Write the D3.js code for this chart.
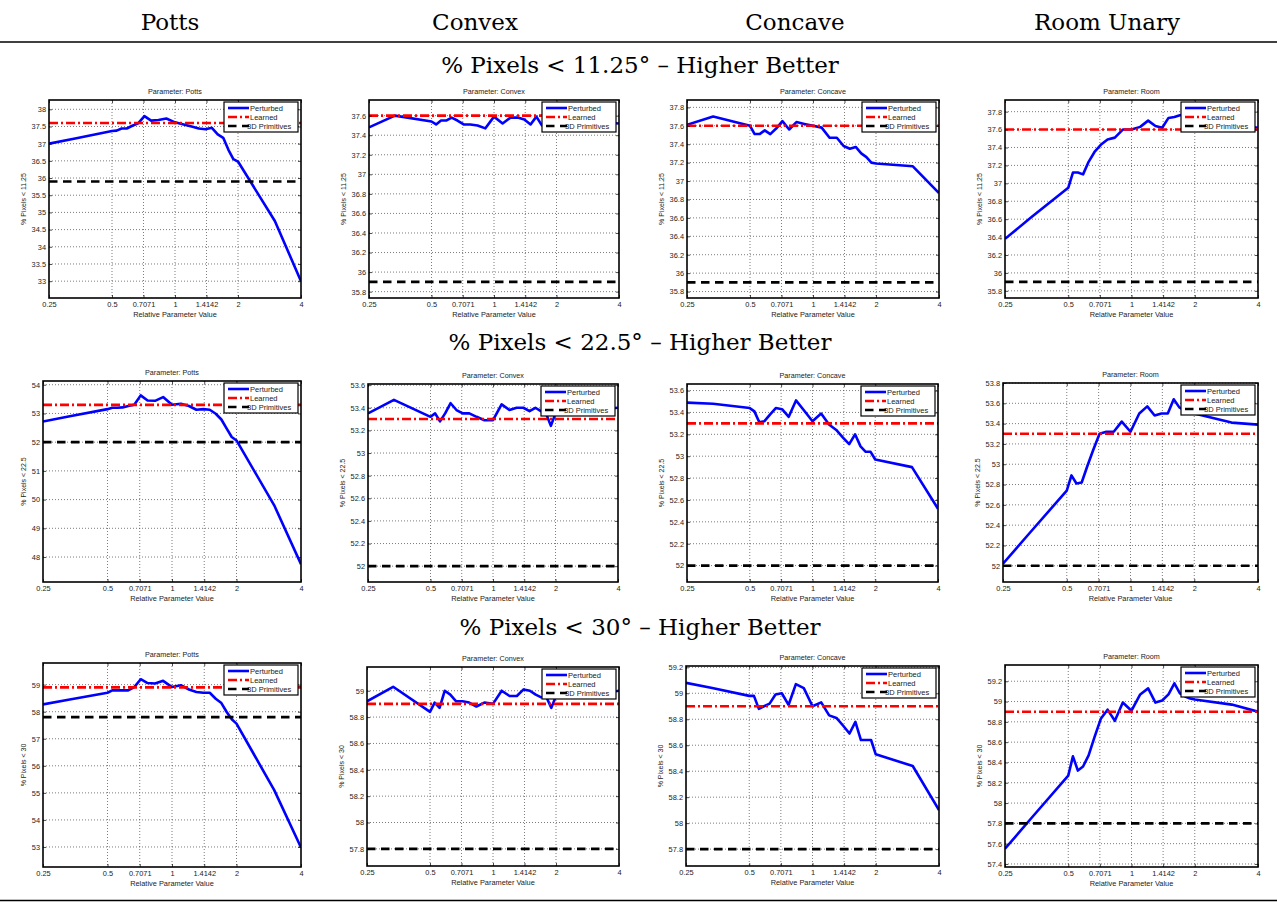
<!DOCTYPE html>
<html>
<head>
<meta charset="utf-8">
<script src="https://cdn.jsdelivr.net/npm/d3@7"></script>
<style>
  body { margin: 0; background: #fff; }
  svg { display: block; }
</style>
</head>
<body>
<svg id="chart"></svg>
<script>
// column headers, panel titles and row titles
const columnNames = ["Potts", "Convex", "Concave", "Room Unary"];
const panelNames = ["Potts", "Convex", "Concave", "Room"];
const sectionTitles = [
  "% Pixels < 11.25° – Higher Better",
  "% Pixels < 22.5° – Higher Better",
  "% Pixels < 30° – Higher Better"
];
const yLabels = ["% Pixels < 11.25", "% Pixels < 22.5", "% Pixels < 30"];
const legendNames = ["Perturbed", "Learned", "3D Primitives"];

// relative parameter values (x), log axis
const xValues = [0.25, 0.3333, 0.5, 0.5263, 0.5556, 0.5882, 0.625, 0.6667, 0.7143, 0.7692, 0.8333, 0.9091,
  1, 1.1, 1.2, 1.3, 1.4, 1.5, 1.6, 1.7, 1.8, 1.9, 2, 3, 4];
const xTicks = [0.25, 0.5, 0.7071, 1, 1.4142, 2, 4];
const xTickLabels = ["0.25", "0.5", "0.7071", "1", "1.4142", "2", "4"];

// reference lines per row
const learned = [37.6, 53.3, 58.9];
const primitives = [35.9, 52.0, 57.8];

// perturbed curves, % pixels < 11.25
const potts11 = [37.0, 37.15, 37.37, 37.38, 37.44, 37.44, 37.52, 37.59, 37.8, 37.67, 37.69, 37.73, 37.62,
  37.56, 37.5, 37.44, 37.42, 37.46, 37.27, 37.17, 36.82, 36.55, 36.48, 34.75, 33.0];
const convex11 = [37.48, 37.6, 37.54, 37.51, 37.55, 37.55, 37.58, 37.55, 37.51, 37.51, 37.5, 37.47, 37.59,
  37.52, 37.58, 37.58, 37.56, 37.51, 37.59, 37.5, 37.55, 37.52, 37.55, 37.54, 37.52];
const concave11 = [37.61, 37.7, 37.6, 37.51, 37.51, 37.55, 37.51, 37.57, 37.65, 37.56, 37.64, 37.62, 37.6,
  37.58, 37.47, 37.47, 37.38, 37.35, 37.37, 37.3, 37.26, 37.2, 37.19, 37.16, 36.87];
const room11 = [36.38, 36.62, 36.95, 37.12, 37.12, 37.1, 37.24, 37.35, 37.43, 37.49, 37.51, 37.6, 37.6,
  37.63, 37.7, 37.64, 37.62, 37.73, 37.74, 37.76, 37.77, 37.75, 37.73, 37.66, 37.62];

// % pixels < 22.5
const potts22 = [52.72, 52.9, 53.15, 53.2, 53.2, 53.21, 53.26, 53.3, 53.63, 53.45, 53.44, 53.57, 53.3,
  53.34, 53.26, 53.13, 53.15, 53.13, 52.99, 52.79, 52.47, 52.18, 52.06, 49.8, 47.75];
const convex22 = [53.35, 53.47, 53.32, 53.35, 53.28, 53.35, 53.44, 53.38, 53.35, 53.35, 53.32, 53.29, 53.29,
  53.43, 53.38, 53.4, 53.4, 53.37, 53.4, 53.37, 53.35, 53.24, 53.35, 53.38, 53.4];
const concave22 = [53.49, 53.48, 53.44, 53.41, 53.31, 53.32, 53.38, 53.44, 53.43, 53.36, 53.51, 53.42, 53.32,
  53.39, 53.29, 53.24, 53.17, 53.11, 53.2, 53.09, 53.04, 53.04, 52.97, 52.9, 52.52];
const room22 = [52.02, 52.32, 52.74, 52.89, 52.81, 52.82, 52.98, 53.14, 53.3, 53.32, 53.32, 53.42, 53.32,
  53.5, 53.57, 53.48, 53.5, 53.5, 53.64, 53.56, 53.53, 53.52, 53.5, 53.41, 53.39];

// % pixels < 30
const potts30 = [58.27, 58.45, 58.7, 58.79, 58.79, 58.79, 58.79, 58.91, 59.2, 59.06, 59.04, 59.14, 58.91,
  58.98, 58.82, 58.73, 58.7, 58.7, 58.48, 58.32, 57.99, 57.72, 57.56, 55.1, 52.98];
const convex30 = [58.92, 59.03, 58.84, 58.91, 58.87, 59.0, 58.97, 58.92, 58.92, 58.91, 58.88, 58.91, 58.9,
  59.0, 58.96, 58.96, 59.01, 59.0, 58.97, 58.95, 58.95, 58.87, 58.96, 58.97, 59.0];
const concave30 = [59.08, 59.04, 58.98, 58.98, 58.88, 58.9, 58.92, 58.99, 59.0, 58.91, 59.07, 59.04, 58.9,
  58.93, 58.83, 58.81, 58.75, 58.69, 58.78, 58.64, 58.64, 58.64, 58.53, 58.44, 58.1];
const room30 = [57.55, 57.85, 58.27, 58.46, 58.32, 58.36, 58.47, 58.65, 58.83, 58.92, 58.81, 58.99, 58.91,
  59.07, 59.13, 58.99, 59.01, 59.07, 59.18, 59.08, 59.05, 59.03, 59.02, 58.97, 58.9];

const perturbed = [
  [potts11, convex11, concave11, room11],
  [potts22, convex22, concave22, room22],
  [potts30, convex30, concave30, room30]
];

// y limits and tick step of each panel
const yDomains = [
  [[32.51, 38.27], [35.735, 37.76], [35.73, 37.88], [35.72, 37.93]],
  [[47.13, 54.13], [51.86, 53.61], [51.85, 53.66], [51.84, 53.8]],
  [[52.26, 59.8], [57.67, 59.18], [57.67, 59.21], [57.37, 59.36]]
];
const yStep = [[0.5, 0.2, 0.2, 0.2], [1, 0.2, 0.2, 0.2], [1, 0.2, 0.2, 0.2]];

// plot boxes (page pixels)
const layout = [
  [{x: 49, y: 100, w: 252, h: 198}, {x: 369, y: 100, w: 250, h: 198}, {x: 687, y: 100, w: 252, h: 198}, {x: 1005, y: 100, w: 253, h: 198}],
  [{x: 43, y: 381, w: 258, h: 201}, {x: 368, y: 384, w: 250, h: 198}, {x: 687, y: 384, w: 251, h: 198}, {x: 1003, y: 383, w: 255, h: 199}],
  [{x: 43, y: 663, w: 258, h: 204}, {x: 367, y: 667, w: 252, h: 199}, {x: 686, y: 666, w: 253, h: 200}, {x: 1005, y: 665, w: 253, h: 202}]
];
const headerX = [170, 475, 795, 1107];
const sectionY = [73, 350, 635];

const W = 1277, H = 903;
const serif = "'DejaVu Serif', 'Liberation Serif', serif";
const sans = "'Liberation Sans', Arial, sans-serif";

const svg = d3.select("#chart").attr("width", W).attr("height", H);
svg.append("rect").attr("width", W).attr("height", H).attr("fill", "#fff");

// table header
svg.selectAll("text.header")
  .data(columnNames)
  .enter()
  .append("text")
  .attr("class", "header")
  .attr("x", (d, i) => headerX[i])
  .attr("y", 30)
  .attr("text-anchor", "middle")
  .style("font-family", serif)
  .style("font-size", "23px")
  .text(d => d);

svg.append("line").attr("x1", 0).attr("x2", W).attr("y1", 42).attr("y2", 42)
  .attr("stroke", "#000").attr("stroke-width", 1.5);
svg.append("line").attr("x1", 0).attr("x2", W).attr("y1", 900.5).attr("y2", 900.5)
  .attr("stroke", "#000").attr("stroke-width", 1.5);

svg.selectAll("text.section")
  .data(sectionTitles)
  .enter()
  .append("text")
  .attr("class", "section")
  .attr("x", 640)
  .attr("y", (d, i) => sectionY[i])
  .attr("text-anchor", "middle")
  .style("font-family", serif)
  .style("font-size", "23px")
  .text(d => d);

const styles = [
  {color: "#0000ff", dash: null},
  {color: "#ff0000", dash: "9,3,2,3"},
  {color: "#000000", dash: "8.5,5.5"}
];

function drawPanel(r, c) {
  const box = layout[r][c];
  const g = svg.append("g");
  const x = d3.scaleLog().base(2).domain([0.25, 4]).range([box.x, box.x + box.w]);
  const y = d3.scaleLinear().domain(yDomains[r][c]).range([box.y + box.h, box.y]);

  const step = yStep[r][c];
  const [lo, hi] = yDomains[r][c];
  const yTicks = d3.range(Math.ceil(lo / step - 1e-9), Math.floor(hi / step + 1e-9) + 1)
    .map(k => +(k * step).toFixed(2));

  // grid
  g.append("g").selectAll("line")
    .data(xTicks.slice(1, -1))
    .enter()
    .append("line")
    .attr("x1", d => x(d)).attr("x2", d => x(d))
    .attr("y1", box.y).attr("y2", box.y + box.h)
    .attr("stroke", "#444").attr("stroke-width", 0.7).attr("stroke-dasharray", "1,2");
  g.append("g").selectAll("line")
    .data(yTicks)
    .enter()
    .append("line")
    .attr("x1", box.x).attr("x2", box.x + box.w)
    .attr("y1", d => y(d)).attr("y2", d => y(d))
    .attr("stroke", "#444").attr("stroke-width", 0.7).attr("stroke-dasharray", "1,2");

  // lines, clipped to the axes
  const clipId = "clip" + r + c;
  g.append("clipPath").attr("id", clipId)
    .append("rect").attr("x", box.x).attr("y", box.y).attr("width", box.w).attr("height", box.h);
  const plot = g.append("g").attr("clip-path", "url(#" + clipId + ")");

  const line = d3.line().x(d => x(d[0])).y(d => y(d[1]));
  plot.append("path")
    .datum(xValues.map((v, i) => [v, perturbed[r][c][i]]))
    .attr("d", line)
    .attr("fill", "none")
    .attr("stroke", styles[0].color)
    .attr("stroke-width", 2.6)
    .attr("stroke-linejoin", "round");
  [learned[r], primitives[r]].forEach((v, i) => {
    plot.append("line")
      .attr("x1", box.x).attr("x2", box.x + box.w)
      .attr("y1", y(v)).attr("y2", y(v))
      .attr("stroke", styles[i + 1].color)
      .attr("stroke-width", 2.6)
      .attr("stroke-dasharray", styles[i + 1].dash);
  });

  // axes
  g.append("g")
    .attr("transform", `translate(0,${box.y + box.h})`)
    .call(d3.axisBottom(x).tickValues(xTicks).tickFormat((d, i) => xTickLabels[i])
      .tickSizeInner(-3).tickSizeOuter(0).tickPadding(3.5));
  const yAxis = g.append("g")
    .attr("transform", `translate(${box.x},0)`)
    .call(d3.axisLeft(y).tickValues(yTicks).tickFormat(d => String(d))
      .tickSizeInner(-3).tickSizeOuter(0).tickPadding(3));
  g.append("g")
    .attr("transform", `translate(0,${box.y})`)
    .call(d3.axisTop(x).tickValues(xTicks).tickFormat("").tickSizeInner(-3).tickSizeOuter(0));
  g.append("g")
    .attr("transform", `translate(${box.x + box.w},0)`)
    .call(d3.axisRight(y).tickValues(yTicks).tickFormat("").tickSizeInner(-3).tickSizeOuter(0));
  g.selectAll(".domain").remove();
  g.selectAll(".tick line").attr("stroke", "#000").attr("stroke-width", 0.7);
  g.selectAll(".tick text").style("font-family", sans).style("font-size", "7.4px").attr("fill", "#222");

  g.append("rect")
    .attr("x", box.x).attr("y", box.y).attr("width", box.w).attr("height", box.h)
    .attr("fill", "none").attr("stroke", "#000").attr("stroke-width", 1.6);

  // titles
  g.append("text")
    .attr("x", box.x + box.w / 2).attr("y", box.y - 6)
    .attr("text-anchor", "middle")
    .style("font-family", sans).style("font-size", "7.2px").attr("fill", "#222")
    .text("Parameter: " + panelNames[c]);
  g.append("text")
    .attr("x", box.x + box.w / 2).attr("y", box.y + box.h + 19)
    .attr("text-anchor", "middle")
    .style("font-family", sans).style("font-size", "7.4px").attr("fill", "#222")
    .text("Relative Parameter Value");
  const labW = d3.max(yAxis.selectAll(".tick text").nodes(), n => n.getComputedTextLength());
  const yl = box.x - labW - 9;
  g.append("text")
    .attr("transform", `translate(${yl},${box.y + box.h / 2}) rotate(-90)`)
    .attr("text-anchor", "middle")
    .style("font-family", sans).style("font-size", "7px").attr("fill", "#222")
    .text(yLabels[r]);

  // legend
  const lw = 74, lh = 30;
  const lx = box.x + box.w - lw - 3, ly = box.y + 2;
  const leg = g.append("g");
  leg.append("rect").attr("x", lx).attr("y", ly).attr("width", lw).attr("height", lh)
    .attr("fill", "#fff").attr("stroke", "#000").attr("stroke-width", 1.2);
  legendNames.forEach((name, i) => {
    const yy = ly + 6 + i * 9;
    leg.append("line")
      .attr("x1", lx + 4).attr("x2", lx + 25).attr("y1", yy).attr("y2", yy)
      .attr("stroke", styles[i].color).attr("stroke-width", 2.6)
      .attr("stroke-dasharray", styles[i].dash);
    leg.append("text")
      .attr("x", i === 2 ? lx + 23 : lx + 26).attr("y", yy)
      .attr("dy", "0.35em")
      .style("font-family", sans).style("font-size", "7.5px").attr("fill", "#222")
      .text(name);
  });
}

for (let r = 0; r < 3; r++) {
  for (let c = 0; c < 4; c++) drawPanel(r, c);
}
</script>
</body>
</html>
